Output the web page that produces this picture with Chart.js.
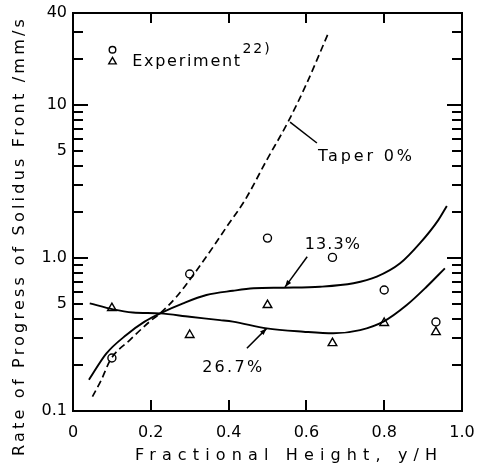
<!DOCTYPE html>
<html><head><meta charset="utf-8">
<script src="https://cdn.jsdelivr.net/npm/chart.js@4.4.1/dist/chart.umd.min.js"></script>
<style>html,body{margin:0;padding:0;background:#fff;}#wrap{width:479px;height:474px;}</style>
</head><body><div id="wrap"><canvas id="c" width="479" height="474"></canvas></div>
<script>
// ---- data ----
const xTickValues = [0, 0.2, 0.4, 0.6, 0.8, 1.0];
const xTickLabels = ['0', '0.2', '0.4', '0.6', '0.8', '1.0'];
const yTickValues = [0.1,0.2,0.3,0.4,0.5,0.6,0.7,0.8,0.9,1,2,3,4,5,6,7,8,9,10,20,30,40];
const yTickLabels = ['0.1','','','','5','','','','','1.0','','','','5','','','','','10','','','40'];
const yLongTicks = [1, 10];

const taper0X = [0.05, 0.073, 0.097, 0.146, 0.197, 0.224, 0.266, 0.309, 0.361, 0.395, 0.442, 0.498, 0.553, 0.601, 0.656];
const taper0Y = [0.124, 0.160, 0.218, 0.291, 0.384, 0.435, 0.558, 0.774, 1.19, 1.60, 2.39, 4.37, 7.78, 13.9, 29.4];

const taper133X = [0.041, 0.086, 0.137, 0.184, 0.224, 0.283, 0.343, 0.411, 0.464, 0.541, 0.635, 0.721, 0.781, 0.841, 0.892, 0.939, 0.961];
const taper133Y = [0.160, 0.238, 0.314, 0.384, 0.435, 0.506, 0.573, 0.611, 0.634, 0.640, 0.649, 0.684, 0.755, 0.923, 1.25, 1.77, 2.19];

const taper267X = [0.043, 0.103, 0.154, 0.224, 0.300, 0.378, 0.411, 0.498, 0.592, 0.669, 0.738, 0.798, 0.858, 0.909, 0.956];
const taper267Y = [0.506, 0.462, 0.441, 0.435, 0.413, 0.393, 0.384, 0.347, 0.330, 0.322, 0.338, 0.384, 0.493, 0.649, 0.857];

const expCircleX = [0.10, 0.30, 0.50, 0.667, 0.80, 0.933];
const expCircleY = [0.222, 0.786, 1.35, 1.01, 0.618, 0.382];
const expTriangleX = [0.10, 0.30, 0.50, 0.667, 0.80, 0.933];
const expTriangleY = [0.471, 0.314, 0.493, 0.278, 0.376, 0.328];

const xTitle = 'Fractional Height, y/H';
const yTitle = 'Rate of Progress of Solidus Front /mm/s';

// ---- styling / annotation placement ----
const FONT = '"DejaVu Sans", sans-serif';
const pts = (xs, ys) => xs.map((x, i) => ({x: x, y: ys[i]}));

const annotations = {
  texts: [
    {text: 'Taper 0%', x: 0.630, y: 4.31, size: 16, width: 94},
    {text: '13.3%', x: 0.596, y: 1.146, size: 16, width: 55},
    {text: '26.7%', x: 0.332, y: 0.180, size: 16, width: 60},
    {text: 'Experiment', x: 0.152, y: 17.99, size: 16, width: 108},
    {text: '22)', x: 0.436, y: 21.9, size: 14, width: 27}
  ],
  leaders: [
    {x1: 0.558, y1: 7.74, x2: 0.627, y2: 5.65, arrow: false},
    {x1: 0.602, y1: 1.02, x2: 0.545, y2: 0.646, arrow: true},
    {x1: 0.447, y1: 0.257, x2: 0.498, y2: 0.347, arrow: true}
  ],
  legendCircle: {x: 0.1015, y: 23.0},
  legendTriangle: {x: 0.1015, y: 19.2}
};

function fitText(ctx, text, left, y, width) {
  ctx.letterSpacing = '0px';
  const w = ctx.measureText(text).width;
  const n = [...text].length;
  const sp = n > 1 ? (width - w) / (n - 1) : 0;
  ctx.letterSpacing = sp.toFixed(2) + 'px';
  ctx.fillText(text, left, y);
  ctx.letterSpacing = '0px';
}

function drawFrame(chart) {
  const c = chart.ctx, xs = chart.scales.x, ys = chart.scales.y;
  const L = Math.round(xs.left), R = Math.round(xs.right), T = Math.round(ys.top), B = Math.round(ys.bottom);
  c.save();
  c.setTransform(1, 0, 0, 1, 0, 0);
  c.globalAlpha = 1;
  c.globalCompositeOperation = 'source-over';
  c.fillStyle = '#000000';
  // frame as filled bars
  c.fillRect(L - 1, T - 1, R - L + 2, 2);
  c.fillRect(L - 1, B - 1, R - L + 2, 2);
  c.fillRect(L - 1, T - 1, 2, B - T + 2);
  c.fillRect(R - 1, T - 1, 2, B - T + 2);
  // inward ticks
  yTickValues.forEach(v => {
    if (v === 0.1 || v === 40) return;
    const py = Math.round(ys.getPixelForValue(v));
    const len = yLongTicks.includes(v) ? 15 : 10;
    c.fillRect(L, py - 1, len, 2);
    c.fillRect(R - len, py - 1, len, 2);
  });
  xTickValues.forEach(v => {
    if (v === 0 || v === 1) return;
    const px = Math.round(xs.getPixelForValue(v));
    c.fillRect(px - 1, B - 11, 2, 11);
    c.fillRect(px - 1, T, 2, 10);
  });
  c.restore();
}

const decor = {
  id: 'decor',
  beforeDraw(chart) {
    const c = chart.ctx;
    c.save(); c.fillStyle = '#fff'; c.fillRect(0, 0, chart.width, chart.height); c.restore();
  },
  afterDatasetsDraw(chart) {
    drawFrame(chart);
  },
  afterDraw(chart) {
    const c = chart.ctx, xs = chart.scales.x, ys = chart.scales.y;
    c.save();
    c.setLineDash([]);
    c.strokeStyle = '#000'; c.fillStyle = '#000';
    // leaders
    c.lineWidth = 1.5;
    annotations.leaders.forEach(l => {
      const x1 = xs.getPixelForValue(l.x1), y1 = ys.getPixelForValue(l.y1);
      const x2 = xs.getPixelForValue(l.x2), y2 = ys.getPixelForValue(l.y2);
      c.beginPath(); c.moveTo(x1, y1); c.lineTo(x2, y2); c.stroke();
      if (l.arrow) {
        const ang = Math.atan2(y2 - y1, x2 - x1), AL = 7, AW = 2.5;
        c.beginPath();
        c.moveTo(x2, y2);
        c.lineTo(x2 - AL * Math.cos(ang) + AW * Math.sin(ang), y2 - AL * Math.sin(ang) - AW * Math.cos(ang));
        c.lineTo(x2 - AL * Math.cos(ang) - AW * Math.sin(ang), y2 - AL * Math.sin(ang) + AW * Math.cos(ang));
        c.closePath(); c.fill();
      }
    });
    // legend symbols
    c.lineWidth = 1.4;
    const lc = annotations.legendCircle, lt = annotations.legendTriangle;
    const cx = xs.getPixelForValue(lc.x), cy = ys.getPixelForValue(lc.y);
    c.beginPath(); c.arc(cx, cy, 3.3, 0, Math.PI * 2); c.stroke();
    const tx = xs.getPixelForValue(lt.x), ty = ys.getPixelForValue(lt.y), r = 4.3;
    c.beginPath();
    for (let k = 0; k < 3; k++) {
      const ang = -Math.PI / 2 + k * 2 * Math.PI / 3;
      const px = tx + r * Math.cos(ang), py = ty + r * Math.sin(ang);
      if (k === 0) c.moveTo(px, py); else c.lineTo(px, py);
    }
    c.closePath(); c.stroke();
    // texts
    c.textBaseline = 'alphabetic'; c.textAlign = 'left';
    annotations.texts.forEach(t => {
      c.font = t.size + 'px ' + FONT;
      fitText(c, t.text, xs.getPixelForValue(t.x), ys.getPixelForValue(t.y), t.width);
    });
    // axis titles
    c.font = '16px ' + FONT;
    fitText(c, xTitle, 135, 460, 302);
    c.save();
    c.translate(24, 238);
    c.rotate(-Math.PI / 2);
    c.font = '16px ' + FONT;
    fitText(c, yTitle, -218, 0, 437);
    c.restore();
    c.restore();
    drawFrame(chart);
  }
};

new Chart(document.getElementById('c'), {
  type: 'scatter',
  data: {
    datasets: [
      {label: 'Taper 0%', data: pts(taper0X, taper0Y), showLine: true, borderColor: '#000', borderWidth: 1.7,
       borderDash: [7, 4], pointRadius: 0, cubicInterpolationMode: 'monotone', fill: false},
      {label: '13.3%', data: pts(taper133X, taper133Y), showLine: true, borderColor: '#000', borderWidth: 1.9,
       pointRadius: 0, cubicInterpolationMode: 'monotone', fill: false},
      {label: '26.7%', data: pts(taper267X, taper267Y), showLine: true, borderColor: '#000', borderWidth: 1.9,
       pointRadius: 0, cubicInterpolationMode: 'monotone', fill: false},
      {label: 'Experiment (circle)', data: pts(expCircleX, expCircleY), showLine: false, pointStyle: 'circle',
       pointRadius: 4, borderColor: '#000', backgroundColor: 'rgba(0,0,0,0)', borderWidth: 1.4},
      {label: 'Experiment (triangle)', data: pts(expTriangleX, expTriangleY), showLine: false, pointStyle: 'triangle',
       pointRadius: 5, borderColor: '#000', backgroundColor: 'rgba(0,0,0,0)', borderWidth: 1.4}
    ]
  },
  options: {
    responsive: false, animation: false, devicePixelRatio: 1,
    layout: {padding: {top: 13, right: 17, left: 0, bottom: 0}},
    plugins: {legend: {display: false}, tooltip: {enabled: false}},
    scales: {
      x: {
        type: 'linear', min: 0, max: 1,
        afterBuildTicks: s => { s.ticks = xTickValues.map(v => ({value: v})); },
        afterFit: s => { s.height = 63; s.paddingLeft = 0; s.paddingRight = 0; },
        ticks: {autoSkip: false, maxRotation: 0, padding: 12, color: '#000', font: {family: FONT, size: 16},
                callback: (v, i) => xTickLabels[i]},
        grid: {display: false, drawTicks: false}, border: {display: false}
      },
      y: {
        type: 'logarithmic', min: 0.1, max: 40,
        afterBuildTicks: s => { s.ticks = yTickValues.map(v => ({value: v})); },
        afterFit: s => { s.width = 73; s.paddingTop = 0; s.paddingBottom = 0; },
        ticks: {autoSkip: false, padding: 6, color: '#000', font: {family: FONT, size: 16},
                callback: (v, i) => yTickLabels[i]},
        grid: {display: false, drawTicks: false}, border: {display: false}
      }
    }
  },
  plugins: [decor]
});
</script></body></html>
